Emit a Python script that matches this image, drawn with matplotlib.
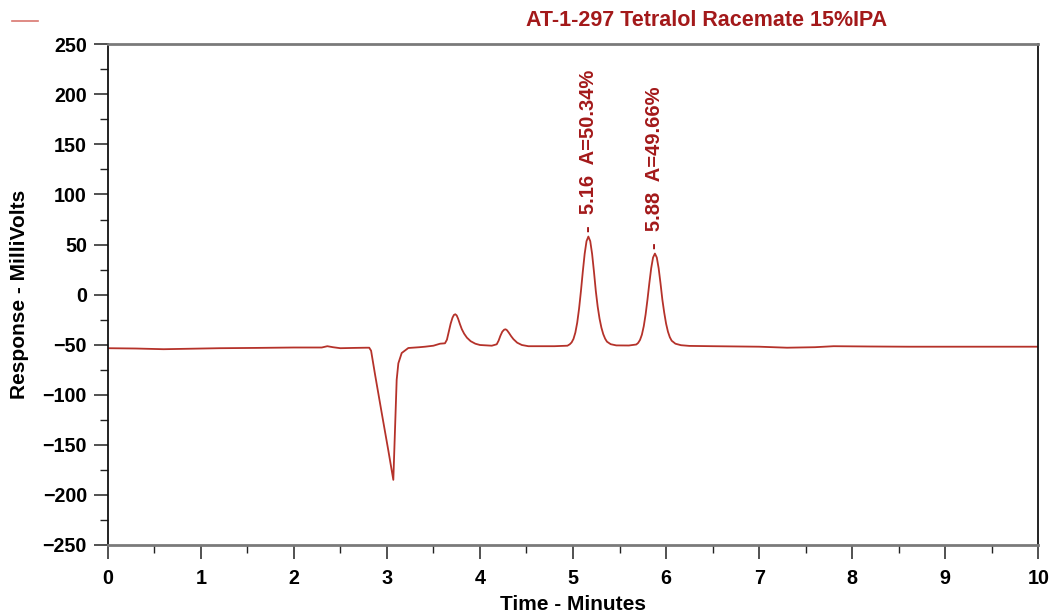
import matplotlib
matplotlib.use("Agg")
import matplotlib.pyplot as plt
from matplotlib.lines import Line2D
from matplotlib.ticker import MultipleLocator

plt.rcParams['font.family'] = ['Liberation Sans', 'DejaVu Sans']

# Chromatogram trace (time in minutes, response in mV)
time_min = [
    0.00, 0.30, 0.60, 0.90, 1.20, 1.60, 2.00, 2.30, 2.36, 2.42, 2.50, 2.65, 2.78,
    2.81, 2.83, 2.873, 2.944, 3.016, 3.069, 3.087, 3.105, 3.123, 3.159, 3.23, 3.35,
    3.41, 3.50, 3.571, 3.624, 3.645, 3.665, 3.685, 3.705, 3.72, 3.735, 3.75, 3.765,
    3.785, 3.805, 3.83, 3.86, 3.90, 3.95, 4.00, 4.127, 4.18, 4.20, 4.22, 4.24, 4.26,
    4.275, 4.29, 4.31, 4.335, 4.36, 4.40, 4.45, 4.52, 4.80,
    4.94, 4.965, 4.985, 5.005, 5.025, 5.045, 5.065, 5.085, 5.105, 5.125, 5.145, 5.165,
    5.185, 5.205, 5.225, 5.245, 5.265, 5.285, 5.305, 5.325, 5.345, 5.365, 5.405,
    5.465, 5.60, 5.68, 5.70, 5.72, 5.74, 5.76, 5.78, 5.80, 5.82, 5.84, 5.86, 5.88,
    5.90, 5.92, 5.94, 5.96, 5.98, 6.00, 6.02, 6.04, 6.06, 6.10, 6.16, 6.25,
    6.50, 7.00, 7.30, 7.60, 7.80, 8.20, 8.60, 9.00, 9.50, 10.00,
]
response_mv = [
    -53.5, -53.8, -54.5, -54.0, -53.5, -53.2, -52.8, -52.8, -51.5, -52.5, -53.5, -53.2, -53.0,
    -53.0, -56.0, -80.0, -118.0, -156.0, -185.0, -135.0, -85.0, -68.6, -58.3, -53.3, -52.5,
    -52.0, -51.0, -49.0, -48.6, -45.0, -37.0, -29.0, -23.0, -20.3, -19.6, -20.8, -24.0,
    -29.5, -34.5, -39.0, -43.0, -46.5, -49.0, -50.3, -51.0, -49.6, -46.0, -41.0, -37.0, -35.0,
    -34.6, -35.5, -38.0, -41.5, -44.5, -48.0, -50.3, -51.5, -51.5,
    -51.0, -49.6, -47.7, -44.2, -37.9, -28.0, -14.0, 3.5, 22.9, 40.7, 53.4, 58.0,
    53.4, 40.7, 22.9, 3.5, -12.0, -24.0, -33.0, -39.5, -44.0, -47.0, -49.5,
    -50.7, -50.8, -49.8, -48.2, -45.2, -40.0, -31.6, -19.8, -5.0, 11.4, 26.4, 37.1, 41.0,
    37.1, 26.4, 11.4, -5.0, -18.0, -29.0, -37.0, -42.5, -46.0, -49.0, -50.5, -51.2,
    -51.5, -52.0, -53.0, -52.5, -51.5, -51.8, -52.0, -52.0, -52.0, -52.0,
]

peak_times = [5.165, 5.88]
peak_apex_mv = [58.0, 41.0]
peak_labels = ["-  5.16  A=50.34%", "-  5.88  A=49.66%"]

title_text = "AT-1-297 Tetralol Racemate 15%IPA"
x_ticks = [0, 1, 2, 3, 4, 5, 6, 7, 8, 9, 10]
y_ticks = [250, 200, 150, 100, 50, 0, -50, -100, -150, -200, -250]

line_color = "#B5322A"
text_color = "#A3191A"

fig = plt.figure(figsize=(10.52, 6.16), dpi=100)
ax = fig.add_axes([0.1024, 0.1153, 0.8846, 0.8128])

ax.plot(time_min, response_mv, color=line_color, linewidth=1.3)

ax.set_xlim(0, 10)
ax.set_ylim(-250, 250)
ax.set_xticks(x_ticks)
ax.set_yticks(y_ticks)
ax.xaxis.set_minor_locator(MultipleLocator(0.5))
ax.yaxis.set_minor_locator(MultipleLocator(25))
ax.tick_params(axis='both', which='major', direction='out', length=10, width=1.1,
               color='#222222', labelsize=14.2)
ax.tick_params(axis='x', which='major', pad=7)
ax.tick_params(axis='y', which='major', pad=5)
ax.tick_params(axis='both', which='minor', direction='out', length=6, width=1.0,
               color='#222222')
for lab in ax.get_xticklabels() + ax.get_yticklabels():
    lab.set_fontweight('bold')

for side in ['top', 'bottom']:
    ax.spines[side].set_color('#7A7A7A')
    ax.spines[side].set_linewidth(2.0)
for side in ['left', 'right']:
    ax.spines[side].set_color('#111111')
    ax.spines[side].set_linewidth(1.3)

ax.set_xlabel("Time - Minutes", fontsize=15, fontweight='bold', labelpad=5)
ax.set_ylabel("Response - MilliVolts", fontsize=15, fontweight='bold', labelpad=10)

for t, v, lab in zip(peak_times, peak_apex_mv, peak_labels):
    ax.annotate(lab, xy=(t, v), xytext=(0, 3), textcoords='offset points',
                rotation=90, ha='center', va='bottom', fontsize=14.5,
                fontweight='bold', color=text_color)

fig.add_artist(Line2D([0.011, 0.036], [0.966, 0.966], color='#D9776F',
                      linewidth=1.2, transform=fig.transFigure))
fig.text(0.672, 0.966, title_text, ha='center', va='center', fontsize=15.5,
         fontweight='bold', color=text_color)

fig.savefig("out.png", dpi=100)
